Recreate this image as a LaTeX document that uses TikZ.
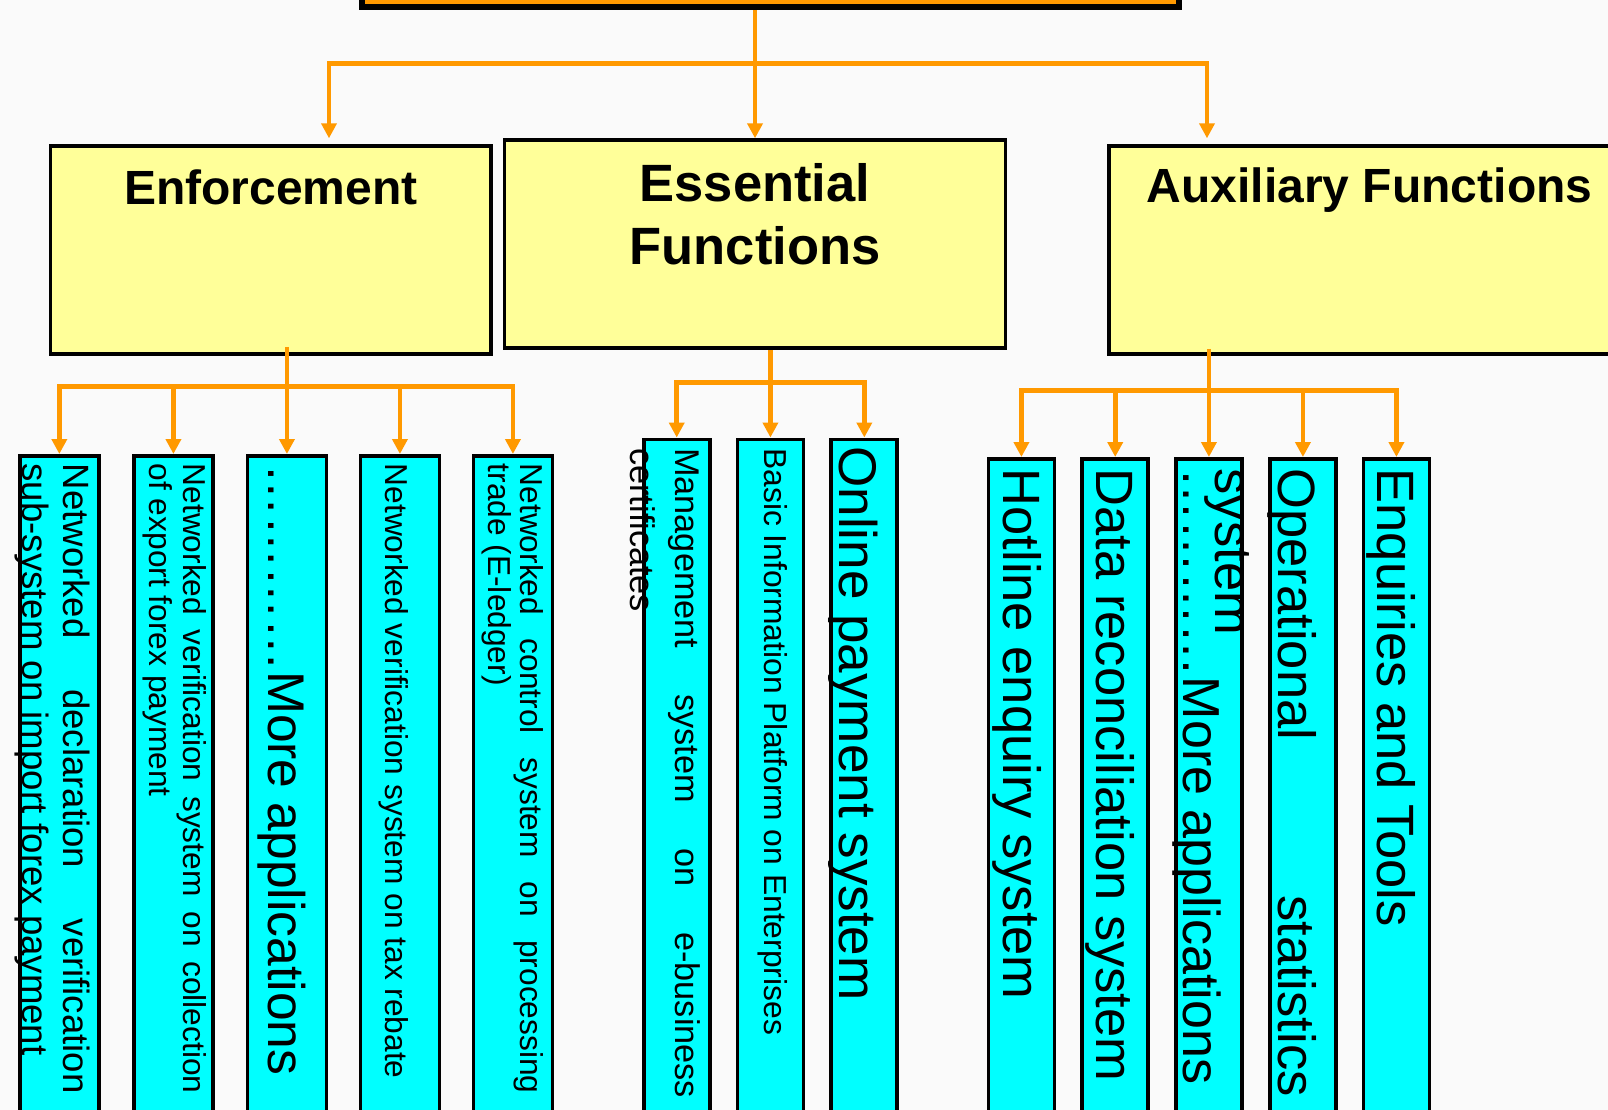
\documentclass[tikz,border=0pt]{standalone}
\usepackage{fontspec}
\setmainfont{Liberation Sans}
\usetikzlibrary{arrows.meta,calc}

\definecolor{linkorange}{HTML}{FF9900}
\definecolor{headyellow}{HTML}{FFFF99}
\definecolor{leafcyan}{HTML}{00FFFF}
\definecolor{backgray}{HTML}{FAFAFA}

\setlength{\parindent}{0pt}
\tolerance=10000
\hyphenpenalty=10000
\exhyphenpenalty=10000

% font size in pt, no shrinking of spaces
\newcommand{\sizept}[2]{\fontsize{#1pt}{#2pt}\selectfont
  \spaceskip=\fontdimen2\font plus \fontdimen3\font\relax}

\begin{document}
\begin{tikzpicture}[x=0.1mm, y=-0.1mm,
    link/.style={draw=linkorange, line width=1.3pt,
      -{Triangle[length=1.5mm,width=1.5mm]}},
    rail/.style={draw=linkorange, line width=1.3pt, line cap=rect},
    head/.style={draw, line width=1.1pt, fill=headyellow, anchor=north west,
      minimum height=20.8mm},
    leaf/.style={draw, line width=1.1pt, fill=leafcyan, anchor=north west,
      minimum width=#1, minimum height=68mm},
    title/.style={font=\bfseries\sizept{13.66}{16}, anchor=north, align=center},
    leaftext/.style={rotate=-90, anchor=north west, align=justify, text width=#1}]

  \path[use as bounding box, fill=backgray] (0,0) rectangle (1608,1110);
  \clip (0,0) rectangle (1608,1110);

  \begin{scope}[every node/.style={inner sep=0pt}]
    \node[draw, line width=1.6pt, fill=linkorange, anchor=south west,
      minimum width=81.7mm, minimum height=10mm] (root) at (359,10) {};

    \node[head, minimum width=44.1mm] (enf) at (48.5,144) {};
    \node[head, minimum width=50.1mm] (ess) at (502.6,138.3) {};
    \node[head, minimum width=52.2mm] (aux) at (1106.7,144) {};

    \node[title] (enft) at ($(enf.north)+(0,25)$) {Enforcement};
    \node[title, font=\bfseries\sizept{14.94}{18.07}] (esst)
      at ($(ess.north)+(0,24)$) {Essential\\Functions};
    \node[title] (auxt) at ($(aux.north)+(0,23.5)$) {Auxiliary Functions};

    % enforcement
    \node[leaf=7.9mm] (e1) at (17.9,454) {};
    \node[leaf=7.9mm] (e2) at (132,454) {};
    \node[leaf=7.9mm] (e3) at (245.5,454) {};
    \node[leaf=7.9mm] (e4) at (358.5,454) {};
    \node[leaf=7.9mm] (e5) at (471.5,454) {};

    % essential functions
    \node[leaf=6.6mm] (s1) at (641.8,437.5) {};
    \node[leaf=6.6mm] (s2) at (735.5,437.5) {};
    \node[leaf=6.6mm] (s3) at (829.4,437.5) {};

    % auxiliary functions
    \node[leaf=6.6mm] (a1) at (986.5,457) {};
    \node[leaf=6.6mm] (a2) at (1080.3,457) {};
    \node[leaf=6.6mm] (a3) at (1174,457) {};
    \node[leaf=6.6mm] (a4) at (1268,457) {};
    \node[leaf=6.6mm] (a5) at (1361.5,457) {};
  \end{scope}

  \begin{scope}[every node/.style={inner sep=0pt}]
    \node[leaftext=63mm, font=\sizept{10.41}{11.66}] (e1t)
      at ($(e1.north east)+(-9.6,9)$)
      {Networked declaration verification sub-system on import forex payment};
    \node[leaftext=63mm, font=\sizept{9.02}{9.67}] (e2t)
      at ($(e2.north east)+(-7.4,9)$)
      {Networked verification system on collection of export forex payment};
    \node[leaftext=66mm, font=\sizept{14.68}{17.6}] (e3t)
      at ($(e3.north east)+(-21.4,10)$) {…………More applications};
    \node[leaftext=66mm, font=\sizept{9.02}{9.67}] (e4t)
      at ($(e4.north east)+(-32,9)$)
      {Networked verification system on tax rebate};
    \node[leaftext=63mm, font=\sizept{9.02}{9.1}] (e5t)
      at ($(e5.north east)+(-10,9)$)
      {Networked control system on processing trade (E-ledger)};

    \node[leaftext=65mm, font=\sizept{9.76}{12.8}] (s1t)
      at ($(s1.north east)+(-10.6,10)$)
      {Management system on e-business certificates};
    \node[leaftext=66mm, font=\sizept{9.05}{10.8}] (s2t)
      at ($(s2.north east)+(-16.7,10)$)
      {Basic Information Platform on Enterprises};
    \node[leaftext=66mm, font=\sizept{15.1}{18}] (s3t)
      at ($(s3.north east)+(-20.5,8)$) {Online payment system};

    \node[leaftext=66mm, font=\sizept{14.94}{17.9}] (a1t)
      at ($(a1.north east)+(-14.4,11)$) {Hotline enquiry system};
    \node[leaftext=66mm, font=\sizept{14.94}{17.9}] (a2t)
      at ($(a2.north east)+(-14.6,11)$) {Data reconciliation system};
    \node[leaftext=66mm, font=\sizept{14.8}{17.9}] (a3t)
      at ($(a3.north east)+(-21.7,11)$) {…………More applications};
    \node[leaftext=62.8mm, font=\sizept{14.94}{17.9}] (a4t)
      at ($(a4.north east)+(-20.7,11)$) {Operational statistics system};
    \node[leaftext=66mm, font=\sizept{14.94}{17.9}] (a5t)
      at ($(a5.north east)+(-15.2,11)$) {Enquiries and Tools};
  \end{scope}

  % top level links
  \coordinate (tl) at (329,63.7);
  \coordinate (tr) at (1207,63.7);
  \draw[rail] (tl) -- (tr);
  \draw[link] (root.south -| ess.north) -- (ess.north);
  \draw[link] (tl) -- (tl |- ess.north);
  \draw[link] (tr) -- (tr |- ess.north);

  % enforcement links
  \coordinate (ebar) at (0,386.7);
  \draw[rail] (e1.north |- ebar) -- (e5.north |- ebar);
  \draw[link] ($(enf.south -| e3.north)+(0,-9)$) -- (e3.north);
  \draw[link] (e1.north |- ebar) -- (e1.north);
  \draw[link] (e2.north |- ebar) -- (e2.north);
  \draw[link] (e4.north |- ebar) -- (e4.north);
  \draw[link] (e5.north |- ebar) -- (e5.north);

  % essential links
  \coordinate (sbar) at (0,382.7);
  \draw[rail] (s1.north |- sbar) -- (s3.north |- sbar);
  \draw[link] (ess.south -| s2.north) -- (s2.north);
  \draw[link] (s1.north |- sbar) -- (s1.north);
  \draw[link] (s3.north |- sbar) -- (s3.north);

  % auxiliary links
  \coordinate (abar) at (0,390.3);
  \draw[rail] (a1.north |- abar) -- (a5.north |- abar);
  \draw[link] ($(aux.south -| a3.north)+(0,-7)$) -- (a3.north);
  \draw[link] (a1.north |- abar) -- (a1.north);
  \draw[link] (a2.north |- abar) -- (a2.north);
  \draw[link] (a4.north |- abar) -- (a4.north);
  \draw[link] (a5.north |- abar) -- (a5.north);

\end{tikzpicture}
\end{document}
